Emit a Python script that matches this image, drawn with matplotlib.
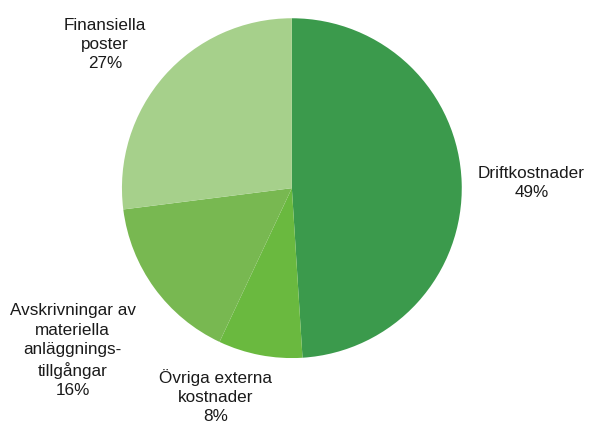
import matplotlib.pyplot as plt

labels = ["Driftkostnader", "Övriga externa\nkostnader",
          "Avskrivningar av\nmateriella\nanläggnings-\ntillgångar", "Finansiella\nposter"]
shares = [49, 8, 16, 27]
colors = ["#3b9a4c", "#6ab93f", "#78b851", "#a6d08b"]
# label positions (axes data units, pie radius = 1)
label_xy = [(1.41, 0.035), (-0.45, -1.22), (-1.29, -0.95), (-1.10, 0.85)]

plt.rcParams['font.family'] = ['Liberation Sans', 'DejaVu Sans']

fig = plt.figure(figsize=(5.92, 4.27), dpi=100)
ax = fig.add_axes([0.206, 0.159, 0.574, 0.796])
ax.pie(shares, colors=colors, startangle=90, counterclock=False, radius=1,
       wedgeprops=dict(linewidth=0))
for lab, val, (x, y) in zip(labels, shares, label_xy):
    ax.text(x, y, f"{lab}\n{val}%", ha="center", va="center",
            fontsize=12.3, linespacing=1.35, color="#1a1a1a")
ax.set_xlim(-1, 1)
ax.set_ylim(-1, 1)
ax.set_aspect("equal")
ax.axis("off")
fig.savefig("out.png", dpi=100)
